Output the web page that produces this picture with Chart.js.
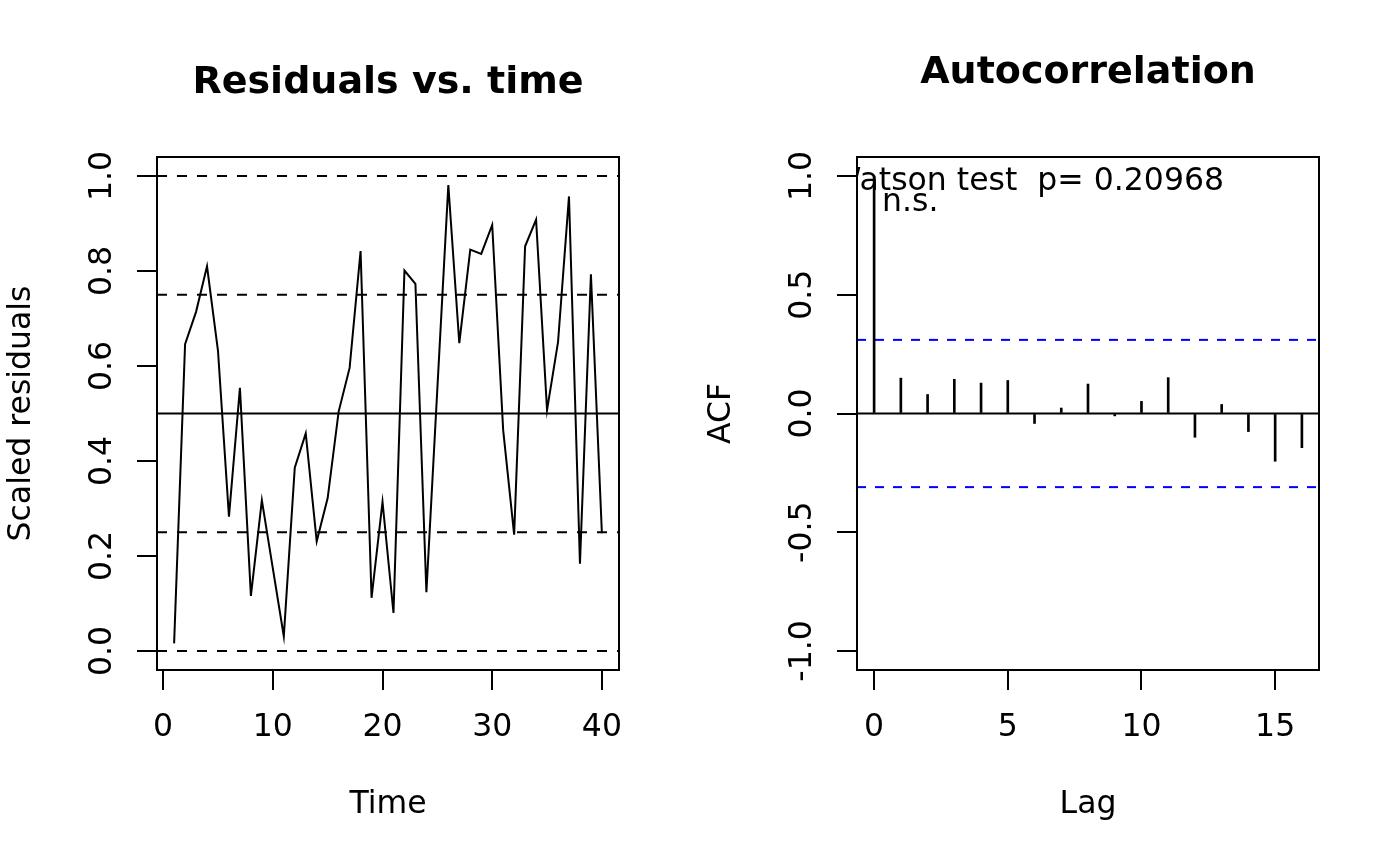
<!DOCTYPE html>
<html>
<head>
<meta charset="utf-8">
<title>Residuals vs. time / Autocorrelation</title>
<script src="https://cdn.jsdelivr.net/npm/chart.js@4.4.1/dist/chart.umd.min.js"></script>
<style>
  html, body { margin: 0; padding: 0; background: #fff; }
  .panel { position: absolute; top: 0; width: 700px; height: 866px; }
  #leftPanel { left: 0; }
  #rightPanel { left: 700px; }
</style>
</head>
<body>
<div class="panel" id="leftPanel"><canvas id="residChart" width="700" height="866"></canvas></div>
<div class="panel" id="rightPanel"><canvas id="acfChart" width="700" height="866"></canvas></div>
<script>
// Left panel: scaled residuals by time index
const timeIdx = [1, 2, 3, 4, 5, 6, 7, 8, 9, 10, 11, 12, 13, 14, 15, 16, 17, 18, 19, 20,
                 21, 22, 23, 24, 25, 26, 27, 28, 29, 30, 31, 32, 33, 34, 35, 36, 37, 38, 39, 40];
const residuals = [0.016, 0.646, 0.714, 0.810, 0.632, 0.283, 0.554, 0.116, 0.317, 0.174,
                   0.031, 0.386, 0.458, 0.231, 0.322, 0.504, 0.596, 0.842, 0.112, 0.314,
                   0.080, 0.801, 0.773, 0.124, 0.553, 0.981, 0.648, 0.845, 0.836, 0.897,
                   0.465, 0.245, 0.852, 0.908, 0.507, 0.650, 0.957, 0.184, 0.793, 0.248];
const residRefLevels = [0, 0.25, 0.5, 0.75, 1];
const residXTicks = [0, 10, 20, 30, 40];
const residYTicks = [0, 0.2, 0.4, 0.6, 0.8, 1.0];

// Right panel: ACF of the residuals
const lags = [0, 1, 2, 3, 4, 5, 6, 7, 8, 9, 10, 11, 12, 13, 14, 15, 16];
const acfValues = [1.0, 0.149, 0.080, 0.144, 0.128, 0.139, -0.042, 0.023, 0.124, -0.010,
                   0.051, 0.151, -0.100, 0.038, -0.076, -0.201, -0.144];
const acfBound = 0.31;
const acfXTicks = [0, 5, 10, 15];
const acfYTicks = [-1.0, -0.5, 0.0, 0.5, 1.0];

const FONT = 'DejaVu Sans';
const BASE = 31.5;

// frame, main title, rotated y tick labels and in-plot notes, R style
const rPanel = {
    id: 'rPanel',
    afterDraw(chart, args, opts) {
        const { ctx, chartArea: a, scales } = chart;
        ctx.save();
        ctx.strokeStyle = '#000';
        ctx.lineWidth = 2;
        ctx.strokeRect(a.left, a.top, a.right - a.left, a.bottom - a.top);

        ctx.fillStyle = '#000';
        ctx.textBaseline = 'alphabetic';
        ctx.textAlign = 'center';
        ctx.font = 'bold 38px "' + FONT + '"';
        ctx.fillText(opts.title, (a.left + a.right) / 2, opts.titleY);

        ctx.font = BASE + 'px "' + FONT + '"';
        scales.y.ticks.forEach(t => {
            ctx.save();
            ctx.translate(111, scales.y.getPixelForValue(t.value));
            ctx.rotate(-Math.PI / 2);
            ctx.fillText(t.value.toFixed(1), 0, 0);
            ctx.restore();
        });

        if (opts.notes) {
            ctx.beginPath();
            ctx.rect(a.left, a.top, a.right - a.left, a.bottom - a.top);
            ctx.clip();
            opts.notes.forEach(n => {
                ctx.textAlign = n.align;
                ctx.fillText(n.text, n.x, n.y);
            });
        }
        ctx.restore();
    }
};

function xScale(min, max, ticks, title) {
    return {
        type: 'linear', min: min, max: max, offset: false,
        afterBuildTicks: s => { s.ticks = ticks.map(v => ({ value: v })); },
        afterFit: s => { s.height = 196; s.paddingLeft = 0; s.paddingRight = 0; },
        grid: { drawOnChartArea: false, drawTicks: true, tickLength: 20, color: '#000', lineWidth: 2, offset: false },
        border: { display: false },
        ticks: { color: '#000', font: { family: FONT, size: BASE }, padding: 19, maxRotation: 0, autoSkip: false },
        title: { display: true, text: title, color: '#000', font: { family: FONT, size: BASE, lineHeight: 1.2 }, padding: { top: 0, bottom: 42 } }
    };
}

function yScale(min, max, ticks, title) {
    return {
        type: 'linear', min: min, max: max,
        afterBuildTicks: s => { s.ticks = ticks.map(v => ({ value: v })); },
        afterFit: s => { s.width = 157; s.paddingTop = 0; s.paddingBottom = 0; },
        grid: { drawOnChartArea: false, drawTicks: true, tickLength: 20, color: '#000', lineWidth: 2 },
        border: { display: false },
        ticks: { display: false },
        title: { display: true, text: title, color: '#000', font: { family: FONT, size: BASE, lineHeight: 1.2 }, padding: { top: 3, bottom: 0 } }
    };
}

function hLine(level, xmin, xmax, color, dash) {
    return {
        type: 'line',
        data: [{ x: xmin, y: level }, { x: xmax, y: level }],
        borderColor: color, borderWidth: 2, borderDash: dash,
        pointRadius: 0, tension: 0
    };
}

const baseOptions = {
    responsive: false,
    animation: false,
    devicePixelRatio: 1,
    layout: { padding: { left: 0, top: 157, right: 81, bottom: 0 } },
    events: []
};

// Residuals vs. time
const rxMin = -0.56, rxMax = 41.56;
const residDatasets = residRefLevels.map(v =>
    hLine(v, rxMin, rxMax, '#000', v === 0.5 ? [] : [10, 10]));
residDatasets.unshift({
    type: 'line',
    data: timeIdx.map((t, i) => ({ x: t, y: residuals[i] })),
    borderColor: '#000', borderWidth: 2, pointRadius: 0, tension: 0
});

new Chart(document.getElementById('residChart'), {
    type: 'line',
    data: { datasets: residDatasets },
    options: Object.assign({}, baseOptions, {
        plugins: {
            legend: { display: false },
            tooltip: { enabled: false },
            rPanel: { title: 'Residuals vs. time', titleY: 93 }
        },
        scales: {
            x: xScale(rxMin, rxMax, residXTicks, 'Time'),
            y: yScale(-0.04, 1.04, residYTicks, 'Scaled residuals')
        }
    }),
    plugins: [rPanel]
});

// Autocorrelation
const axMin = -0.64, axMax = 16.64;
new Chart(document.getElementById('acfChart'), {
    type: 'line',
    data: {
        datasets: [
            {
                type: 'bar',
                data: lags.map((l, i) => ({ x: l, y: acfValues[i] })),
                backgroundColor: '#000', borderWidth: 0, barThickness: 2
            },
            hLine(0, axMin, axMax, '#000', []),
            hLine(acfBound, axMin, axMax, '#0000ff', [9, 9]),
            hLine(-acfBound, axMin, axMax, '#0000ff', [9, 9])
        ]
    },
    options: Object.assign({}, baseOptions, {
        plugins: {
            legend: { display: false },
            tooltip: { enabled: false },
            rPanel: {
                title: 'Autocorrelation', titleY: 83,
                notes: [
                    { text: 'Durbin-Watson test  p= 0.20968', x: 524, y: 190, align: 'right' },
                    { text: 'n.s.', x: 182, y: 211, align: 'left' }
                ]
            }
        },
        scales: {
            x: xScale(axMin, axMax, acfXTicks, 'Lag'),
            y: yScale(-1.08, 1.08, acfYTicks, 'ACF')
        }
    }),
    plugins: [rPanel]
});
</script>
</body>
</html>
